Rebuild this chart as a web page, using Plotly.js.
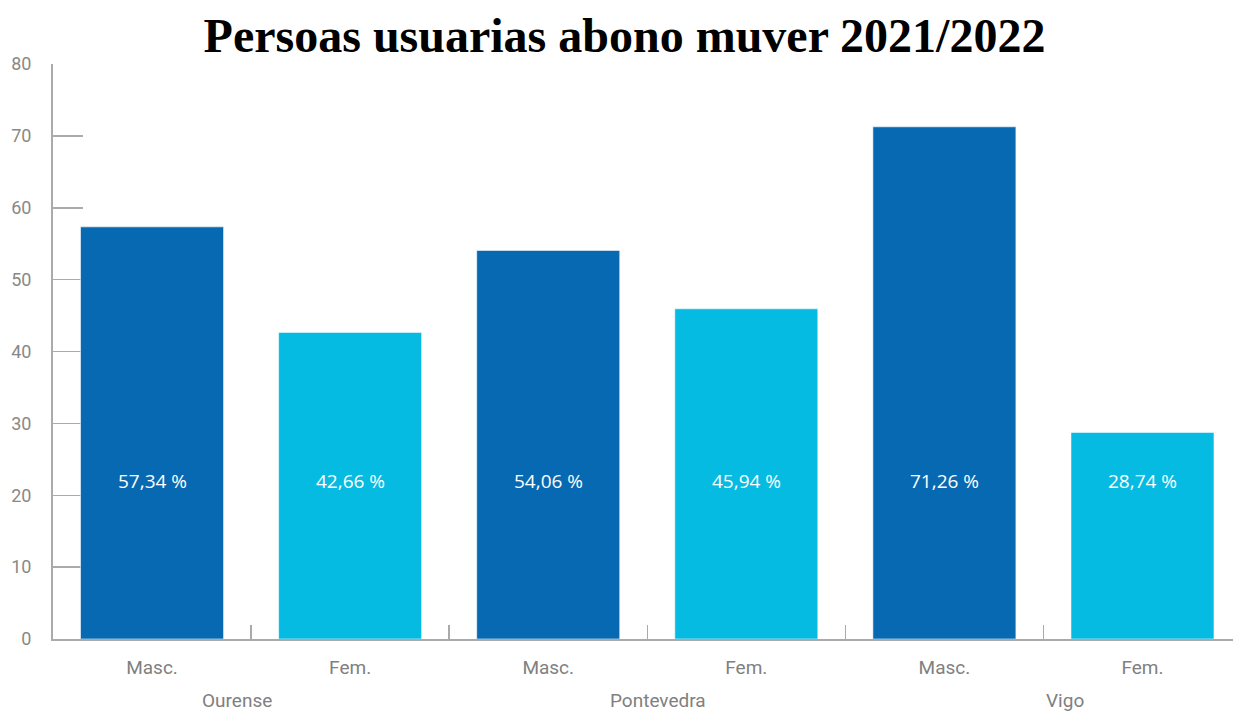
<!DOCTYPE html>
<html>
<head>
<meta charset="utf-8">
<script src="https://cdn.plot.ly/plotly-3.0.1.min.js"></script>
<style>
html,body{margin:0;padding:0;background:#fff;}
#chart{width:1233px;height:713px;}
</style>
</head>
<body>
<div id="chart"></div>
<script>
const categories = ["Ourense Masc.", "Ourense Fem.", "Pontevedra Masc.", "Pontevedra Fem.", "Vigo Masc.", "Vigo Fem."];
const tickLabels = ["Masc.", "Fem.", "Masc.", "Fem.", "Masc.", "Fem."];
const groups = ["Ourense", "Pontevedra", "Vigo"];
const values = [57.34, 42.66, 54.06, 45.94, 71.26, 28.74];
const sexes = ["M", "F", "M", "F", "M", "F"];

const colorMasc = "#0769b1";
const colorFem = "#05bbe2";
const labelY = 22;

const barColors = sexes.map(s => s === "M" ? colorMasc : colorFem);

const trace = {
  type: "bar",
  x: categories,
  y: values,
  marker: {color: barColors, line: {color: "rgba(255,255,255,0.55)", width: 1}},
  hoverinfo: "x+y",
  showlegend: false
};

const valueAnnotations = categories.map((c, i) => ({
  x: c, y: labelY, xref: "x", yref: "y",
  text: values[i].toFixed(2).replace(".", ",") + " %",
  showarrow: false,
  font: {family: "Open Sans, sans-serif", size: 19, color: "#ffffff"}
}));

const groupShift = [-14, 11, 22];
const H = 713, T = 64, B = 74;
const groupAnnotations = groups.map((g, i) => ({
  x: 2 * i + 0.5, y: (H - B - 700) / (H - T - B), xref: "x", yref: "paper",
  text: g, showarrow: false, xshift: groupShift[i],
  yanchor: "middle", borderpad: 0,
  font: {family: "Roboto, sans-serif", size: 19, color: "#808080"}
}));

const layout = {
  width: 1233, height: 713,
  margin: {l: 53, r: 0, t: T, b: B, pad: 0},
  paper_bgcolor: "#ffffff",
  plot_bgcolor: "#ffffff",
  bargap: 0.278,
  title: {
    text: "Persoas usuarias abono muver 2021/2022",
    font: {family: "Liberation Serif, Times New Roman, serif", size: 48, color: "#000000", weight: "bold"},
    xref: "container", x: 0.5065, xanchor: "center",
    yref: "container", y: 1 - 35 / 713, yanchor: "middle"
  },
  xaxis: {
    type: "category",
    range: [-0.5, 5.457],
    tickmode: "array",
    tickvals: categories,
    ticktext: tickLabels,
    tickson: "boundaries",
    ticks: "inside",
    ticklen: 14,
    tickwidth: 1.5,
    tickcolor: "#aaaaaa",
    showline: true,
    linecolor: "#aaaaaa",
    linewidth: 2,
    showgrid: false,
    zeroline: false,
    layer: "below traces",
    ticklabelstandoff: 10,
    tickfont: {family: "Roboto, sans-serif", size: 19, color: "#808080"},
    fixedrange: true
  },
  yaxis: {
    range: [0, 80],
    tickvals: [0, 10, 20, 30, 40, 50, 60, 70, 80],
    ticks: "inside",
    ticklen: 30,
    tickwidth: 1.5,
    tickcolor: "#aaaaaa",
    showline: true,
    linecolor: "#aaaaaa",
    linewidth: 2,
    showgrid: false,
    zeroline: false,
    layer: "below traces",
    ticklabelstandoff: 16,
    tickfont: {family: "Roboto, sans-serif", size: 18, color: "#888888"},
    fixedrange: true
  },
  annotations: valueAnnotations.concat(groupAnnotations)
};

Plotly.newPlot("chart", [trace], layout, {displayModeBar: false, staticPlot: true});
</script>
</body>
</html>
